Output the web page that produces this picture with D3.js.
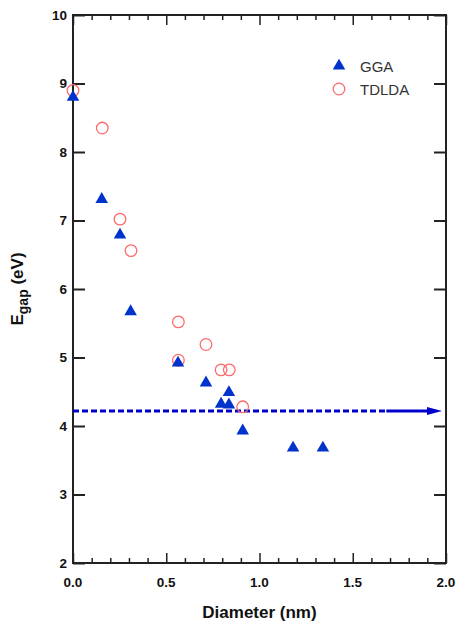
<!DOCTYPE html>
<html>
<head>
<meta charset="utf-8">
<script src="https://cdn.jsdelivr.net/npm/d3@7"></script>
<style>
  body { margin: 0; background: #fff; }
  text { font-family: "Liberation Sans", Arial, sans-serif; }
  .tick-label { font-size: 13.5px; font-weight: bold; fill: #111; }
  .axis-title { font-size: 17px; font-weight: bold; fill: #111; }
  .legend-label { font-size: 15px; fill: #333; }
</style>
</head>
<body>
<div id="chart"></div>
<script>
// GGA gaps (triangles)
var ggaDiameter = [ 0.0, 0.154, 0.252, 0.309, 0.563, 0.713, 0.794, 0.836, 0.836, 0.91, 1.18, 1.34 ];
var ggaGap      = [ 8.80, 7.31, 6.79, 5.67, 4.92, 4.63, 4.32, 4.31, 4.49, 3.93, 3.68, 3.68 ];

// TDLDA gaps (open circles)
var tdldaDiameter = [ 0.0, 0.157, 0.252, 0.311, 0.565, 0.565, 0.713, 0.794, 0.838, 0.91 ];
var tdldaGap      = [ 8.90, 8.35, 7.02, 6.56, 5.52, 4.96, 5.19, 4.82, 4.82, 4.28 ];

// bulk limit line
var bulkGap = 4.22;
var arrowStart = 1.68;

var xTicks = [ 0, 0.5, 1.0, 1.5, 2.0 ];
var yTicks = [ 2, 3, 4, 5, 6, 7, 8, 9, 10 ];

var margin = { top: 15, right: 11, bottom: 61, left: 73 },
    width = 457 - margin.left - margin.right,
    height = 624 - margin.top - margin.bottom;

var x = d3.scaleLinear().domain( [ 0, 2 ] ).range( [ 0, width ] );
var y = d3.scaleLinear().domain( [ 2, 10 ] ).range( [ height, 0 ] );

var svg = d3.select( '#chart' )
  .append( 'svg' )
    .attr( 'width', 457 )
    .attr( 'height', 624 )
  .append( 'g' )
    .attr( 'transform', 'translate(' + margin.left + ',' + margin.top + ')' );

var minorX = d3.range( 0, 21 ).map( function( i ) { return i / 10; } );

// frame ticks, all pointing inwards
function isMajor( v ) { return Math.abs( v * 2 - Math.round( v * 2 ) ) < 1e-6; }

svg.append( 'g' )
  .attr( 'transform', 'translate(0,' + height + ')' )
  .call( d3.axisBottom( x ).tickValues( minorX ).tickSize( 0 ).tickFormat( '' ) )
  .call( function( g ) {
    g.select( '.domain' ).remove();
    g.selectAll( '.tick line' )
      .attr( 'y2', function( d ) { return isMajor( d ) ? -10 : -5; } )
      .attr( 'stroke', '#222' ).attr( 'stroke-width', 1.5 );
  } );

svg.append( 'g' )
  .call( d3.axisTop( x ).tickValues( minorX ).tickSize( 0 ).tickFormat( '' ) )
  .call( function( g ) {
    g.select( '.domain' ).remove();
    g.selectAll( '.tick line' )
      .attr( 'y2', function( d ) { return isMajor( d ) ? 10 : 5; } )
      .attr( 'stroke', '#222' ).attr( 'stroke-width', 1.5 );
  } );

svg.append( 'g' )
  .call( d3.axisLeft( y ).tickValues( yTicks ).tickSize( -12 ).tickFormat( '' ) )
  .call( function( g ) {
    g.select( '.domain' ).remove();
    g.selectAll( '.tick line' ).attr( 'stroke', '#222' ).attr( 'stroke-width', 2 );
  } );

svg.append( 'g' )
  .attr( 'transform', 'translate(' + width + ',0)' )
  .call( d3.axisRight( y ).tickValues( yTicks ).tickSize( -12 ).tickFormat( '' ) )
  .call( function( g ) {
    g.select( '.domain' ).remove();
    g.selectAll( '.tick line' ).attr( 'stroke', '#222' ).attr( 'stroke-width', 2 );
  } );

// plot frame
svg.append( 'rect' )
  .attr( 'width', width )
  .attr( 'height', height )
  .attr( 'fill', 'none' )
  .attr( 'stroke', '#222' )
  .attr( 'stroke-width', 2 );

// tick labels
svg.selectAll( '.xlab' )
  .data( xTicks )
  .enter().append( 'text' )
    .attr( 'class', 'tick-label' )
    .attr( 'x', function( d ) { return x( d ); } )
    .attr( 'y', height + 24 )
    .attr( 'text-anchor', 'middle' )
    .text( function( d ) { return d.toFixed( 1 ); } );

svg.selectAll( '.ylab' )
  .data( yTicks )
  .enter().append( 'text' )
    .attr( 'class', 'tick-label' )
    .attr( 'x', -6 )
    .attr( 'y', function( d ) { return y( d ); } )
    .attr( 'dy', '0.35em' )
    .attr( 'text-anchor', 'end' )
    .text( function( d ) { return d; } );

// axis titles
svg.append( 'text' )
  .attr( 'class', 'axis-title' )
  .attr( 'x', width / 2 )
  .attr( 'y', height + 55 )
  .attr( 'text-anchor', 'middle' )
  .text( 'Diameter (nm)' );

var yTitle = svg.append( 'text' )
  .attr( 'class', 'axis-title' )
  .attr( 'transform', 'translate(' + ( -50 ) + ',' + ( height / 2 ) + ') rotate(-90)' )
  .attr( 'text-anchor', 'middle' );
yTitle.append( 'tspan' ).text( 'E' );
yTitle.append( 'tspan' ).attr( 'dy', 5 ).style( 'font-size', '14px' ).text( 'gap' );
yTitle.append( 'tspan' ).attr( 'dy', -5 ).text( ' (eV)' );

// bulk gap: dashed line then a solid arrow
svg.append( 'line' )
  .attr( 'x1', x( 0 ) )
  .attr( 'x2', x( arrowStart ) )
  .attr( 'y1', y( bulkGap ) )
  .attr( 'y2', y( bulkGap ) )
  .attr( 'stroke', '#0000cc' )
  .attr( 'stroke-width', 3 )
  .attr( 'stroke-dasharray', '6,3' );

svg.append( 'line' )
  .attr( 'x1', x( arrowStart ) )
  .attr( 'x2', x( 2 ) - 18 )
  .attr( 'y1', y( bulkGap ) )
  .attr( 'y2', y( bulkGap ) )
  .attr( 'stroke', '#0000cc' )
  .attr( 'stroke-width', 3 );

svg.append( 'path' )
  .attr( 'd', 'M' + ( x( 2 ) - 4 ) + ',' + y( bulkGap ) +
              'L' + ( x( 2 ) - 19 ) + ',' + ( y( bulkGap ) - 4 ) +
              'L' + ( x( 2 ) - 19 ) + ',' + ( y( bulkGap ) + 4 ) + 'Z' )
  .attr( 'fill', '#0000cc' );

// markers
var tri = d3.symbol().type( d3.symbolTriangle ).size( 68 );

var gga = ggaDiameter.map( function( d, i ) { return { x: d, y: ggaGap[i] }; } );
var tdlda = tdldaDiameter.map( function( d, i ) { return { x: d, y: tdldaGap[i] }; } );

svg.selectAll( '.tdlda' )
  .data( tdlda )
  .enter().append( 'circle' )
    .attr( 'cx', function( d ) { return x( d.x ); } )
    .attr( 'cy', function( d ) { return y( d.y ); } )
    .attr( 'r', 5.8 )
    .attr( 'fill', 'none' )
    .attr( 'stroke', '#ff6b6b' )
    .attr( 'stroke-width', 1.3 );

svg.selectAll( '.gga' )
  .data( gga )
  .enter().append( 'path' )
    .attr( 'd', tri )
    .attr( 'transform', function( d ) { return 'translate(' + x( d.x ) + ',' + y( d.y ) + ')'; } )
    .attr( 'fill', '#0033cc' );

// legend
var legend = svg.append( 'g' )
  .attr( 'transform', 'translate(' + ( 339 - margin.left ) + ',' + ( 66 - margin.top ) + ')' );

legend.append( 'path' )
  .attr( 'd', tri )
  .attr( 'fill', '#0033cc' );
legend.append( 'text' )
  .attr( 'class', 'legend-label' )
  .attr( 'x', 21 )
  .attr( 'y', 5.5 )
  .text( 'GGA' );

legend.append( 'circle' )
  .attr( 'cy', 23 )
  .attr( 'r', 5.8 )
  .attr( 'fill', 'none' )
  .attr( 'stroke', '#ff6b6b' )
  .attr( 'stroke-width', 1.3 );
legend.append( 'text' )
  .attr( 'class', 'legend-label' )
  .attr( 'x', 21 )
  .attr( 'y', 28.5 )
  .text( 'TDLDA' );
</script>
</body>
</html>
